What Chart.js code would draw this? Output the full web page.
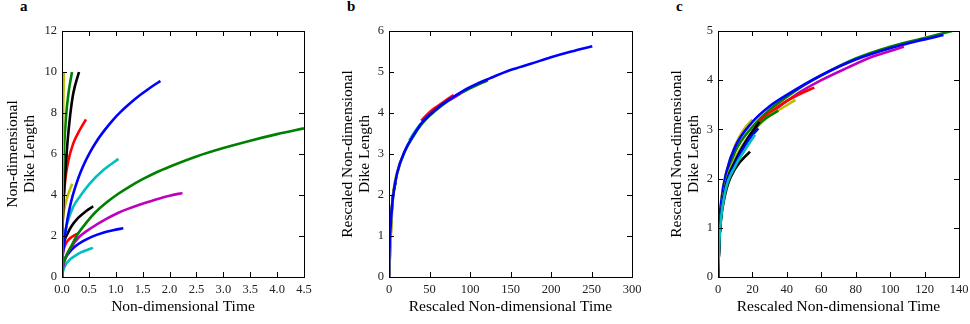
<!DOCTYPE html>
<html>
<head>
<meta charset="utf-8">
<script src="https://cdn.jsdelivr.net/npm/chart.js@4.4.1/dist/chart.umd.min.js"></script>
<style>
  body { margin:0; background:#fff; width:970px; height:324px; position:relative; overflow:hidden; }
  canvas { position:absolute; top:0; }
  .tag { position:absolute; top:-2px; font:bold 15px 'Liberation Serif', serif; color:#000; }
</style>
</head>
<body>
<div class="tag" style="left:20px">a</div>
<div class="tag" style="left:347px">b</div>
<div class="tag" style="left:676px">c</div>
<canvas id="chart-a" width="320" height="324" style="left:0"></canvas>
<canvas id="chart-b" width="313" height="324" style="left:335px"></canvas>
<canvas id="chart-c" width="306" height="324" style="left:664px"></canvas>
<script>
/* ---- colours (matplotlib classic cycle) ---- */
const COL = { b:'#0000ff', g:'#008000', r:'#ff0000', c:'#00bfbf', m:'#bf00bf', y:'#bfbf00', k:'#000000' };

/* ---- panel a : non-dimensional time vs dike length ---- */
const aYellow1  = [[0,0],[0.002,2.5],[0.008,5],[0.018,7.5],[0.035,10]];
const aGreen2   = [[0,0],[0.002,2],[0.008,3.6],[0.02,5.0],[0.037,6.2],[0.074,7.8],[0.12,8.96],[0.186,10]];
const aBlack2   = [[0,0],[0.003,1.5],[0.01,2.4],[0.025,3.43],[0.056,4.9],[0.1,6.5],[0.15,7.85],[0.21,8.96],[0.316,10]];
const aRed1     = [[0,0],[0.003,1.8],[0.012,3.0],[0.037,4.08],[0.068,4.9],[0.12,5.7],[0.21,6.52],[0.33,7.17],[0.446,7.69]];
const aMagenta2 = [[0,0],[0.003,1.5],[0.01,3.0],[0.025,4.2],[0.05,5.3],[0.09,6.0]];
const aBlue1    = [[0,0],[0.005,0.7],[0.015,1.1],[0.03,1.45],[0.06,2.1],[0.1,2.8],[0.15,3.45],[0.2,3.98],[0.3,4.8],[0.4,5.45],
                   [0.52,6.08],[0.65,6.65],[0.8,7.19],[0.95,7.67],[1.1,8.08],[1.25,8.44],[1.4,8.77],[1.55,9.06],[1.7,9.34],[1.83,9.56]];
const aYellow2  = [[0,0],[0.003,1.5],[0.01,2.5],[0.02,2.9],[0.05,3.4],[0.087,3.8],[0.13,4.15],[0.19,4.55]];
const aCyan1    = [[0,0],[0.005,0.9],[0.02,1.5],[0.05,2.1],[0.1,2.65],[0.21,3.43],[0.33,3.92],[0.52,4.57],[0.77,5.22],[1.05,5.76]];
const aBlack1   = [[0,0],[0.005,0.8],[0.02,1.4],[0.05,1.8],[0.1,2.1],[0.17,2.45],[0.3,2.88],[0.45,3.22],[0.58,3.45]];
const aGreen1   = [[0,0],[0.01,0.45],[0.05,0.85],[0.1,1.15],[0.17,1.5],[0.3,2.12],[0.45,2.64],[0.55,2.96],[0.7,3.35],[0.85,3.68],
                   [1.04,4.05],[1.25,4.4],[1.5,4.77],[1.75,5.1],[2.0,5.38],[2.5,5.88],[3.0,6.29],[3.5,6.65],[4.0,6.97],[4.5,7.25]];
const aMagenta1 = [[0,0],[0.02,0.5],[0.08,1.0],[0.17,1.45],[0.3,1.9],[0.55,2.4],[0.8,2.8],[1.04,3.12],[1.2,3.3],[1.4,3.49],
                   [1.6,3.66],[1.8,3.82],[2.0,3.96],[2.24,4.1]];
const aRed2     = [[0,0],[0.005,0.7],[0.02,1.2],[0.05,1.5],[0.1,1.75],[0.18,1.95],[0.3,2.13]];
const aBlue2    = [[0,0],[0.01,0.4],[0.05,0.85],[0.12,1.15],[0.23,1.46],[0.4,1.76],[0.55,1.96],[0.75,2.15],[0.95,2.28],[1.14,2.38]];
const aCyan2    = [[0,0],[0.02,0.3],[0.08,0.65],[0.17,0.9],[0.27,1.08],[0.36,1.21],[0.47,1.32],[0.576,1.42]];

/* ---- panel b : rescaled, collapsed on one curve ---- */
const bBlue    = [[0,0],[0.5,0.6],[2,1.23],[5,1.96],[10,2.53],[20,3.1],[30,3.45],[40,3.75],[50,3.95],[65,4.2],[80,4.4],
                  [100,4.63],[125,4.85],[150,5.05],[175,5.2],[200,5.36],[225,5.5],[251,5.63]];
const bYellow  = [[0,0],[5,1.97],[10,2.54],[16,2.9]];
const bBlack   = [[0,0],[4,1.8],[8,2.3]];
const bMagenta = [[75,4.32],[88,4.47]];
const bGreen   = [[0,0],[0.5,0.6],[2,1.23],[5,1.96],[10,2.53],[20,3.08],[30,3.43],[40,3.72],[50,3.93],[65,4.18],[80,4.38],[100,4.6],[122,4.8]];
const bCyan    = [[25,3.33],[32,3.55],[39,3.74]];
const bRed     = [[40,3.81],[50,4.01],[60,4.16],[70,4.3],[80,4.43]];

/* ---- panel c : second rescaling ---- */
const cCyan1   = [[0,0],[1,0.85],[4,1.7],[10,2.25],[16,2.6],[21.5,2.89]];
const cBlack2  = [[0,0],[1,0.85],[4,1.65],[10,2.2],[18.6,2.55]];
const cBlue2   = [[0,0],[1,0.9],[4,1.75],[10,2.3],[17,2.75],[23.4,3.02]];
const cBlack1  = [[0,0],[1,0.9],[4,1.75],[10,2.35],[17,2.8],[24,3.15]];
const cGreen2  = [[0,0],[1,0.9],[4,1.8],[10,2.35],[18,2.85],[25,3.15],[35,3.38]];
const cYellow1 = [[0,0],[1,0.9],[4,1.8],[10,2.4],[20,2.95],[30,3.28],[38,3.45],[45,3.6]];
const cRed     = [[0,0],[1,0.9],[3,1.55],[6,2.0],[10,2.35],[15,2.7],[20,2.95],[25,3.2],[30,3.34],[40,3.58],[50,3.76],[56,3.85]];
const cMagenta = [[0,0],[1,0.9],[3,1.6],[6,2.0],[10,2.4],[20,2.95],[30,3.3],[45,3.7],[60,4.0],[75,4.25],[90,4.48],[108,4.68]];
const cBlue1   = [[0,0],[0.5,0.85],[2,1.55],[5,2.15],[10,2.65],[20,3.15],[30,3.47],[40,3.7],[60,4.1],[80,4.42],[100,4.65],[120,4.83],[131,4.92]];
const cGreen1  = [[0,0],[0.5,0.75],[2,1.43],[5,2.04],[10,2.55],[20,3.05],[30,3.4],[40,3.66],[50,3.9],[60,4.1],[80,4.44],[100,4.68],[120,4.86],[136,5.0]];
const cYellow2 = [[0,0],[0.5,0.9],[2,1.6],[5,2.15],[10,2.68],[15,3.0],[20,3.2]];

/* draw order, bottom first */
const seriesA = [[aYellow1,'y'],[aGreen2,'g'],[aBlack2,'k'],[aRed1,'r'],[aMagenta2,'m'],[aBlue1,'b'],[aYellow2,'y'],
                 [aCyan1,'c'],[aBlack1,'k'],[aGreen1,'g'],[aMagenta1,'m'],[aRed2,'r'],[aBlue2,'b'],[aCyan2,'c']];
const seriesB = [[bBlue,'b'],[bYellow,'y'],[bBlack,'k'],[bMagenta,'m'],[bGreen,'g'],[bCyan,'c'],[bRed,'r']];
const seriesC = [[cCyan1,'c'],[cBlack2,'k'],[cBlue2,'b'],[cBlack1,'k'],[cGreen2,'g'],[cYellow1,'y'],[cRed,'r'],
                 [cMagenta,'m'],[cBlue1,'b'],[cGreen1,'g'],[cYellow2,'y']];

const SERIF = "'Liberation Serif', 'DejaVu Serif', serif";

// matplotlib-ish frame: full box with inward ticks on all four sides
const boxTicks = {
  id: 'boxTicks',
  afterDraw(chart) {
    const { ctx, chartArea: a, scales: { x, y } } = chart;
    ctx.save();
    ctx.strokeStyle = '#000';
    ctx.lineWidth = 1;
    ctx.strokeRect(Math.round(a.left) + 0.5, Math.round(a.top) + 0.5, Math.round(a.right - a.left), Math.round(a.bottom - a.top));
    ctx.beginPath();
    x.ticks.forEach(t => {
      const p = Math.round(x.getPixelForValue(t.value)) + 0.5;
      ctx.moveTo(p, a.bottom); ctx.lineTo(p, a.bottom - 5);
      ctx.moveTo(p, a.top);    ctx.lineTo(p, a.top + 5);
    });
    y.ticks.forEach(t => {
      const p = Math.round(y.getPixelForValue(t.value)) + 0.5;
      ctx.moveTo(a.left, p);  ctx.lineTo(a.left + 5, p);
      ctx.moveTo(a.right, p); ctx.lineTo(a.right - 5, p);
    });
    ctx.stroke();
    ctx.restore();
  }
};

function noPad(s) { s.paddingLeft = s.paddingRight = s.paddingTop = s.paddingBottom = 0; }

function makePanel(id, series, o) {
  new Chart(document.getElementById(id), {
    type: 'scatter',
    data: {
      datasets: series.map(([pts, c]) => ({
        data: pts.map(([x, y]) => ({ x, y })),
        showLine: true,
        borderColor: COL[c],
        borderWidth: pts === bRed ? 3.2 : 2.6,
        borderJoinStyle: 'round',
        pointRadius: 0,
        cubicInterpolationMode: 'monotone',
      }))
    },
    options: {
      responsive: false,
      animation: false,
      devicePixelRatio: 1,
      layout: { padding: { top: 31, right: o.padRight, left: 0, bottom: 0 } },
      plugins: { legend: { display: false }, tooltip: { enabled: false } },
      scales: {
        x: {
          type: 'linear', min: 0, max: o.xMax,
          grid: { display: false, drawTicks: false }, border: { display: false },
          ticks: { stepSize: o.xStep, padding: 5, color: '#222', maxRotation: 0,
                   font: { family: SERIF, size: 12.5 },
                   callback: v => v.toFixed(o.xDigits) },
          title: { display: true, text: o.xTitle, color: '#000',
                   font: { family: SERIF, size: 15.5 }, padding: { top: 0, bottom: 8 } },
          afterFit: s => { s.height = 47; noPad(s); }
        },
        y: {
          type: 'linear', min: 0, max: o.yMax,
          grid: { display: false, drawTicks: false }, border: { display: false },
          ticks: { stepSize: o.yStep, padding: 5, color: '#222',
                   font: { family: SERIF, size: 12.5 } },
          title: { display: true, text: o.yTitle, color: '#000',
                   font: { family: SERIF, size: 15.5, lineHeight: 1.12 }, padding: { top: 4, bottom: 0 } },
          afterFit: s => { s.width = o.yWidth; noPad(s); }
        }
      }
    },
    plugins: [boxTicks]
  });
}

makePanel('chart-a', seriesA, { xMax: 4.5, xStep: 0.5, xDigits: 1, yMax: 12, yStep: 2, yWidth: 62, padRight: 16,
  xTitle: 'Non-dimensional Time', yTitle: ['Non-dimensional', 'Dike Length'] });
makePanel('chart-b', seriesB, { xMax: 300, xStep: 50, xDigits: 0, yMax: 6, yStep: 1, yWidth: 54, padRight: 16,
  xTitle: 'Rescaled Non-dimensional Time', yTitle: ['Rescaled Non-dimensional', 'Dike Length'] });
makePanel('chart-c', seriesC, { xMax: 140, xStep: 20, xDigits: 0, yMax: 5, yStep: 1, yWidth: 54, padRight: 11,
  xTitle: 'Rescaled Non-dimensional Time', yTitle: ['Rescaled Non-dimensional', 'Dike Length'] });
</script>
</body>
</html>
